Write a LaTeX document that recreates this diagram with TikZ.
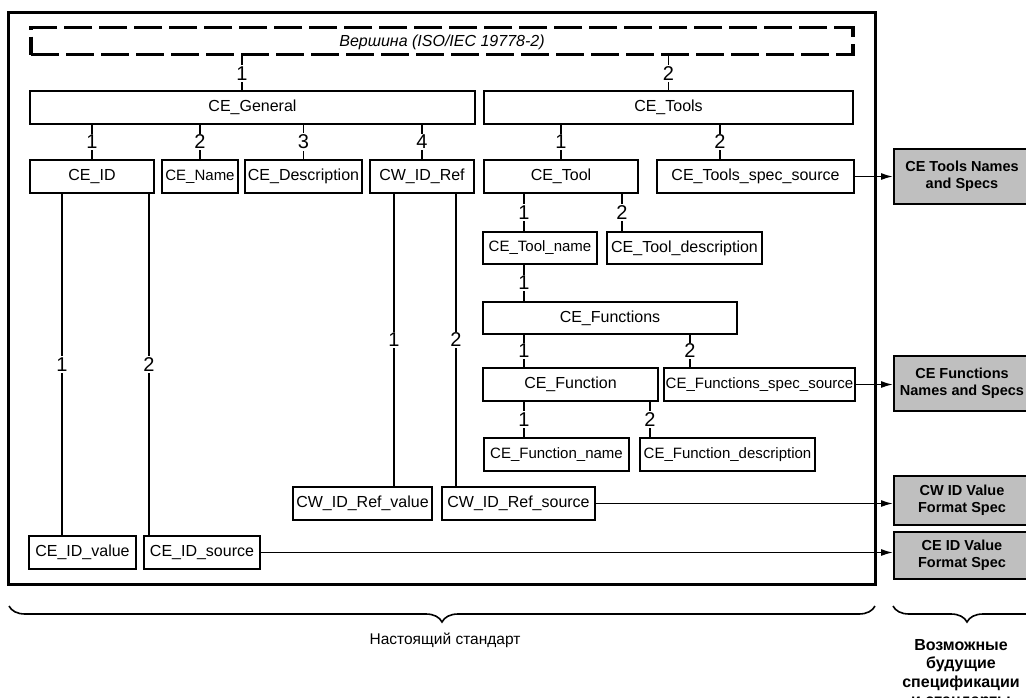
\documentclass[tikz,border=0pt]{standalone}
\usepackage{fontspec}
\setmainfont{Liberation Sans}
\usetikzlibrary{arrows.meta,decorations.pathreplacing}

\begin{document}
\begin{tikzpicture}[x=1pt,y=-1pt,
  box/.style={draw, line width=1.9pt, inner sep=1pt, minimum height=33pt, font=\fontsize{16}{18}\selectfont},
  tight/.style={font=\fontsize{15}{18}\selectfont},
  spec/.style={draw, line width=1.9pt, fill=black!25, inner sep=1pt, align=center, minimum width=136pt, font=\bfseries\fontsize{14.5}{17}\selectfont},
  num/.style={fill=white, inner xsep=1pt, inner ysep=1.5pt, font=\fontsize{20}{20}\selectfont},
  link/.style={line width=1.6pt},
  feed/.style={line width=1.6pt, -{Latex[length=12pt,width=7pt]}},
  curly/.style={line width=1.6pt, decorate, decoration={brace, mirror, amplitude=16pt}}]
\useasboundingbox (0,0) rectangle (1026,697);

% frame of the standard
\draw[line width=3pt] (8,12) rectangle (875,584);

\node (top) at (442,41) [draw, dash pattern=on 28pt off 7pt, line width=3.5pt, minimum width=822pt, minimum height=27pt, inner sep=0pt, text height=19pt, text depth=8pt, font=\itshape\fontsize{16}{18}\selectfont] {Вершина (ISO/IEC 19778-2)};

\node (general) at (252.5,107.5) [box, minimum width=445pt] {CE\_General};
\node (tools) at (668.5,107.5) [box, minimum width=369pt] {CE\_Tools};

\node (ceid) at (92,176.5) [box, minimum width=124pt] {CE\_ID};
\node (cename) at (200,176.5) [box, tight, minimum width=76pt] {CE\_Name};
\node (cedesc) at (303.5,176.5) [box, minimum width=117pt] {CE\_Description};
\node (cwref) at (422,176.5) [box, minimum width=104pt] {CW\_ID\_Ref};
\node (tool) at (561,176.5) [box, minimum width=154pt] {CE\_Tool};
\node (toolsspec) at (755.5,176.5) [box, minimum width=197pt] {CE\_Tools\_spec\_source};

\node (toolname) at (540,248) [box, tight, minimum width=114pt, minimum height=32pt] {CE\_Tool\_name};
\node (tooldesc) at (684.5,248) [box, minimum width=155pt, minimum height=32pt] {CE\_Tool\_description};
\node (functions) at (610,318) [box, minimum width=254pt, minimum height=32pt] {CE\_Functions};
\node (function) at (570.5,384.5) [box, minimum width=175pt] {CE\_Function};
\node (funcspec) at (759.5,384.5) [box, tight, minimum width=191pt] {CE\_Functions\_spec\_source};
\node (funcname) at (556.5,454.5) [box, tight, minimum width=145pt] {CE\_Function\_name};
\node (funcdesc) at (727.5,454.5) [box, tight, minimum width=175pt] {CE\_Function\_description};

\node (cwval) at (362.5,503.5) [box, minimum width=139pt] {CW\_ID\_Ref\_value};
\node (cwsrc) at (518.5,503.5) [box, minimum width=153pt] {CW\_ID\_Ref\_source};
\node (ceval) at (82.5,552.5) [box, minimum width=107pt] {CE\_ID\_value};
\node (cesrc) at (202,552.5) [box, minimum width=116pt] {CE\_ID\_source};

% outside specifications
\node (toolsref) at (962,176.5) [spec, minimum height=55pt] {CE Tools Names\\and Specs};
\node (funcref) at (962,383.5) [spec, minimum height=55pt] {CE Functions\\Names and Specs};
\node (cwspec) at (962,500.5) [spec, minimum height=49pt] {CW ID Value\\Format Spec};
\node (cespec) at (962,555.5) [spec, minimum height=47pt] {CE ID Value\\Format Spec};

\draw[link]
(top.south -| 242,0) to node[num] (t1) {1} (general.north -| 242,0)
(top.south -| tools.north) to node[num] (t2) {2} (tools.north);

\draw[link]
(general.south -| ceid.north) to node[num] (g1) {1} (ceid.north)
(general.south -| cename.north) to node[num] (g2) {2} (cename.north)
(general.south -| cedesc.north) to node[num] (g3) {3} (cedesc.north)
(general.south -| cwref.north) to node[num] (g4) {4} (cwref.north)
(tools.south -| tool.north) to node[num] (s1) {1} (tool.north)
(tools.south -| 720,0) to node[num] (s2) {2} (toolsspec.north -| 720,0);

\draw[link]
(tool.south -| 524,0) to node[num] (o1) {1} (toolname.north -| 524,0)
(tool.south -| 622,0) to node[num] (o2) {2} (tooldesc.north -| 622,0)
(toolname.south -| 524,0) to node[num] (m1) {1} (functions.north -| 524,0)
(functions.south -| 524,0) to node[num] (f1) {1} (function.north -| 524,0)
(functions.south -| 690,0) to node[num] (f2) {2} (funcspec.north -| 690,0)
(function.south -| 524,0) to node[num] (u1) {1} (funcname.north -| 524,0)
(function.south -| 650,0) to node[num] (u2) {2} (funcdesc.north -| 650,0);

\draw[link]
(ceid.south -| 62,0) to node[num] (i1) {1} (ceval.north -| 62,0)
(ceid.south -| 149,0) to node[num] (i2) {2} (cesrc.north -| 149,0)
(cwref.south -| 394,0) to node[num] (r1) {1} (cwval.north -| 394,0)
(cwref.south -| 456,0) to node[num] (r2) {2} (cwsrc.north -| 456,0);

\draw[feed] (toolsspec.east) -- (toolsref.west);
\draw[feed] (funcspec.east) -- (funcspec.east -| funcref.west);
\draw[feed] (cwsrc.east) -- (cwsrc.east -| cwspec.west);
\draw[feed] (cesrc.east) -- (cesrc.east -| cespec.west);

% braces
\draw[curly] (9,606) -- (875,606);
\node (present) at (445,640) [font=\fontsize{15.5}{18}\selectfont] {Настоящий стандарт};
\draw[curly] (893,606) -- (1041,606);
\node (future) at (961,639) [anchor=north, align=center, inner sep=0pt, font=\bfseries\fontsize{16}{18.5}\selectfont] {Возможные\\будущие\\спецификации\\и стандарты};
\end{tikzpicture}
\end{document}
